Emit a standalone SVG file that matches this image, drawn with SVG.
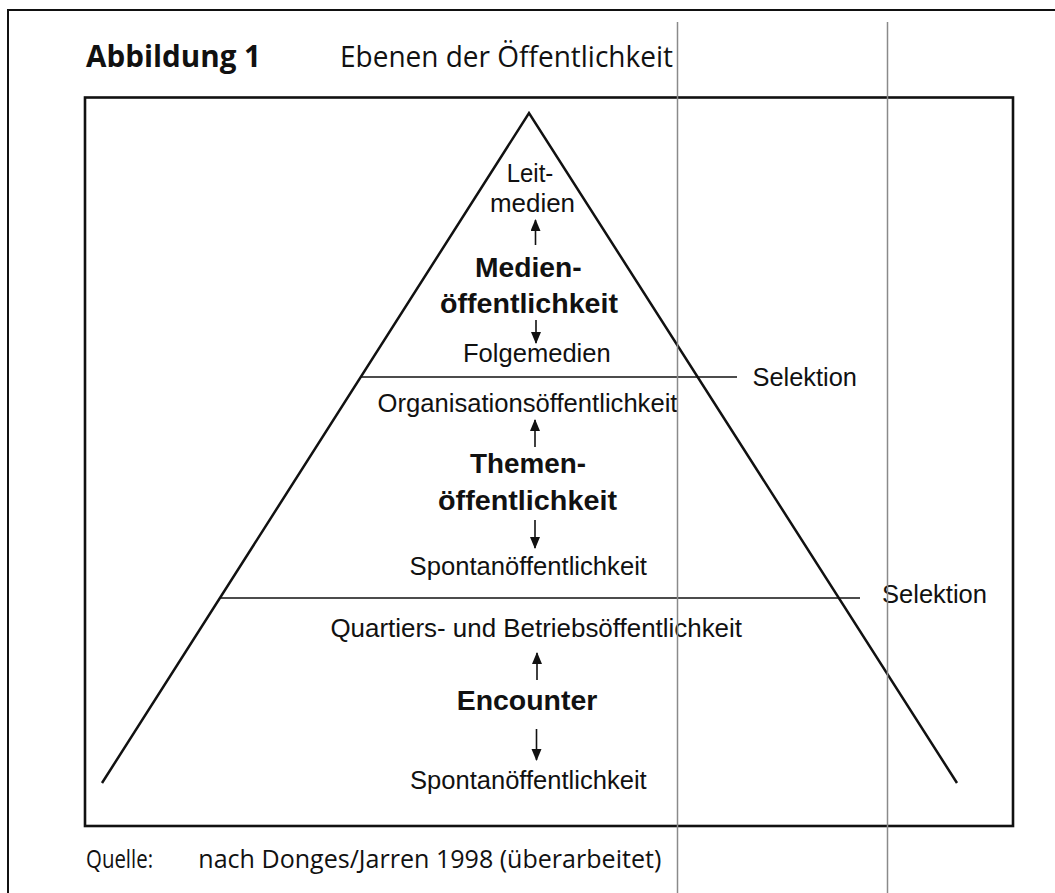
<svg xmlns="http://www.w3.org/2000/svg" width="1055" height="893" viewBox="0 0 1055 893">
<defs>
<marker id="ah" markerUnits="userSpaceOnUse" markerWidth="12" markerHeight="14" refX="11" refY="5" orient="auto">
<path d="M0,0 L12,5 L0,10 Z" fill="#111"/>
</marker>
<style>
.t{font-family:"Liberation Sans",Arial,sans-serif;font-size:26px;fill:#111}
.b{font-family:"Liberation Sans",Arial,sans-serif;font-size:28.5px;font-weight:bold;fill:#111}
.h{font-family:"Open Sans","Liberation Sans",sans-serif;fill:#111}
.ln{stroke:#111;fill:none}
.arr{stroke:#111;stroke-width:1.6;fill:none;marker-end:url(#ah)}
.scan{stroke:#8a8a8a;stroke-width:1.5}
</style>
</defs>
<rect width="1055" height="893" fill="#fff"/>
<g id="outer-frame">
<path class="ln" d="M8,893 L8,10 L1055,10" stroke-width="2"/>
</g>
<g id="title">
<text class="h" x="86" y="67" font-size="31" font-weight="bold" textLength="175" lengthAdjust="spacingAndGlyphs">Abbildung 1</text>
<text class="h" x="340" y="67" font-size="29.5" textLength="333" lengthAdjust="spacingAndGlyphs">Ebenen der Öffentlichkeit</text>
</g>
<g id="box">
<rect class="ln" x="85" y="97.5" width="928" height="728.5" stroke-width="2.6"/>
</g>
<g id="pyramid">
<path class="ln" d="M102,783 L529,113 L957,783" stroke-width="2.5"/>
<line class="ln" x1="361" y1="377" x2="737" y2="377" stroke-width="1.6"/>
<line class="ln" x1="219" y1="598" x2="860" y2="598" stroke-width="1.6"/>
</g>
<g id="level-medien">
<text class="t" x="506.7" y="182" textLength="46.6" lengthAdjust="spacingAndGlyphs">Leit-</text>
<text class="t" x="490" y="212" textLength="85" lengthAdjust="spacingAndGlyphs">medien</text>
<text class="b" x="475" y="277" textLength="106.7" lengthAdjust="spacingAndGlyphs">Medien-</text>
<text class="b" x="440" y="313" textLength="178" lengthAdjust="spacingAndGlyphs">öffentlichkeit</text>
<text class="t" x="463" y="362" textLength="147.7" lengthAdjust="spacingAndGlyphs">Folgemedien</text>
</g>
<g id="level-themen">
<text class="t" x="377.5" y="412" textLength="300" lengthAdjust="spacingAndGlyphs">Organisationsöffentlichkeit</text>
<text class="b" x="470" y="473" textLength="116" lengthAdjust="spacingAndGlyphs">Themen-</text>
<text class="b" x="438" y="510" textLength="179" lengthAdjust="spacingAndGlyphs">öffentlichkeit</text>
<text class="t" x="409.6" y="575" textLength="237.4" lengthAdjust="spacingAndGlyphs">Spontanöffentlichkeit</text>
</g>
<g id="level-encounter">
<text class="t" x="330.4" y="637" textLength="411.6" lengthAdjust="spacingAndGlyphs">Quartiers- und Betriebsöffentlichkeit</text>
<text class="b" x="456.7" y="710" textLength="140.6" lengthAdjust="spacingAndGlyphs">Encounter</text>
<text class="t" x="410" y="788.5" textLength="236.7" lengthAdjust="spacingAndGlyphs">Spontanöffentlichkeit</text>
</g>
<g id="selektion-labels">
<text class="t" x="752.5" y="386" textLength="104.5" lengthAdjust="spacingAndGlyphs">Selektion</text>
<text class="t" x="882" y="603" textLength="105" lengthAdjust="spacingAndGlyphs">Selektion</text>
</g>
<g id="connectors">
<line class="arr" x1="535.5" y1="245" x2="535.5" y2="220"/>
<line class="arr" x1="536" y1="320" x2="536" y2="343"/>
<line class="arr" x1="535" y1="447" x2="535" y2="420"/>
<line class="arr" x1="535" y1="520" x2="535" y2="548"/>
<line class="arr" x1="537" y1="680" x2="537" y2="653"/>
<line class="arr" x1="536.5" y1="729" x2="536.5" y2="760"/>
</g>
<g id="source">
<text class="h" x="86" y="868" font-size="25" textLength="67" lengthAdjust="spacingAndGlyphs">Quelle:</text>
<text class="h" x="198.3" y="868" font-size="25" textLength="463" lengthAdjust="spacingAndGlyphs">nach Donges/Jarren 1998 (überarbeitet)</text>
</g>
<g id="scan-lines">
<line class="scan" x1="677.5" y1="22" x2="677.5" y2="893"/>
<line class="scan" x1="887.5" y1="22" x2="887.5" y2="893"/>
</g>
</svg>
